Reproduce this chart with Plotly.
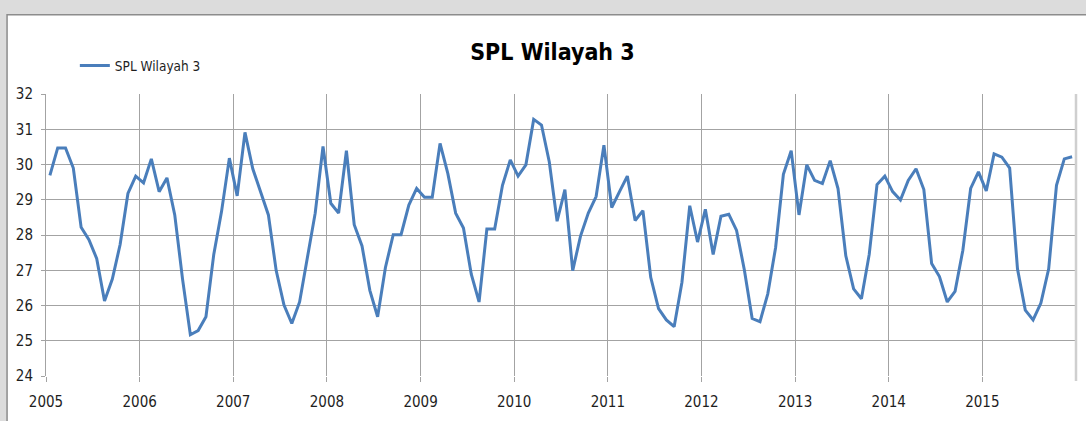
import plotly.graph_objects as go

# Monthly SPL (sea surface temperature) values, Jan 2005 .. Dec 2015
years = list(range(2005, 2016))
spl_2005 = [29.69, 30.47, 30.47, 29.90, 28.22, 27.87, 27.33, 26.13, 26.75, 27.73, 29.18, 29.67]
spl_2006 = [29.48, 30.16, 29.23, 29.62, 28.57, 26.75, 25.17, 25.29, 25.68, 27.45, 28.67, 30.18]
spl_2007 = [29.11, 30.91, 29.88, 29.23, 28.57, 26.99, 26.01, 25.49, 26.10, 27.36, 28.62, 30.51]
spl_2008 = [28.90, 28.62, 30.39, 28.29, 27.69, 26.43, 25.68, 27.08, 28.01, 28.01, 28.85, 29.32]
spl_2009 = [29.07, 29.07, 30.60, 29.74, 28.62, 28.20, 26.89, 26.10, 28.17, 28.17, 29.41, 30.13]
spl_2010 = [29.67, 29.99, 31.28, 31.12, 30.07, 28.39, 29.29, 26.99, 27.97, 28.62, 29.09, 30.55]
spl_2011 = [28.78, 29.23, 29.67, 28.41, 28.69, 26.80, 25.91, 25.59, 25.40, 26.66, 28.83, 27.80]
spl_2012 = [28.73, 27.45, 28.53, 28.59, 28.13, 27.01, 25.63, 25.54, 26.33, 27.64, 29.72, 30.39]
spl_2013 = [28.57, 29.99, 29.55, 29.46, 30.11, 29.32, 27.41, 26.47, 26.19, 27.45, 29.43, 29.67]
spl_2014 = [29.23, 28.99, 29.55, 29.88, 29.29, 27.19, 26.82, 26.10, 26.40, 27.57, 29.32, 29.79]
spl_2015 = [29.25, 30.30, 30.21, 29.90, 27.04, 25.87, 25.59, 26.07, 27.04, 29.41, 30.16, 30.22]

series_name = "SPL Wilayah 3"
chart_title = "SPL Wilayah 3"
y_ticks = [24, 25, 26, 27, 28, 29, 30, 31, 32]
x_tick_labels = [str(y) for y in years]

values = (spl_2005 + spl_2006 + spl_2007 + spl_2008 + spl_2009 + spl_2010 +
          spl_2011 + spl_2012 + spl_2013 + spl_2014 + spl_2015)
# mid-month positions on a fractional-year axis
x_pos = [years[0] + (i + 0.5) / 12 for i in range(len(values))]

FONT = "DejaVu Sans Condensed, Liberation Sans Narrow, Roboto, sans-serif"
GRID = "#a3a3a3"
TXT = "#1e1e1e"

fig = go.Figure()
fig.add_trace(go.Scatter(
    x=x_pos, y=values, mode="lines", name=series_name,
    line=dict(color="#4a7ebb", width=3),
))

fig.update_layout(
    width=1086, height=421,
    margin=dict(l=46, r=10, t=94, b=41),
    paper_bgcolor="#dcdcdc",
    plot_bgcolor="white",
    font=dict(family=FONT, size=15, color=TXT),
    title=dict(text="<b>" + chart_title + "</b>", font=dict(family=FONT, size=23, color="black"),
               x=0.4917, xref="paper", xanchor="center",
               y=1 - 52 / 421, yref="container", yanchor="middle"),
    showlegend=True,
    legend=dict(x=0.028, y=1.10, xanchor="left", yanchor="middle",
                bgcolor="rgba(0,0,0,0)", font=dict(family=FONT, size=13.5, color=TXT),
                itemwidth=30),
    shapes=[
        dict(type="rect", xref="paper", yref="paper", x0=-0.0378, x1=1.03, y0=-0.3, y1=1.281,
             fillcolor="white", line=dict(color="#8c8c8c", width=1.5), layer="below"),
        dict(type="line", xref="paper", yref="paper", x0=1.0, x1=1.0, y0=-0.018, y1=1.0,
             line=dict(color="#cfcfcf", width=2.5)),
    ],
)

fig.update_xaxes(
    range=[2005, 2016], tickmode="array", tickvals=years, ticktext=x_tick_labels,
    showgrid=True, gridcolor=GRID, gridwidth=1,
    ticks="outside", ticklen=5, tickcolor=GRID, showline=False, zeroline=False,
    ticklabelstandoff=7,
    tickfont=dict(family=FONT, size=15, color=TXT),
)
fig.update_yaxes(
    range=[24, 32], tickmode="array", tickvals=y_ticks,
    showgrid=True, gridcolor=GRID, gridwidth=1,
    ticks="outside", ticklen=4, tickcolor=GRID,
    showline=True, linecolor=GRID, linewidth=1, zeroline=False,
    ticklabelstandoff=5,
    tickfont=dict(family=FONT, size=15, color=TXT),
)

fig.write_html("out.html", config={"displayModeBar": False},
               post_script="document.body.style.margin='0';")
